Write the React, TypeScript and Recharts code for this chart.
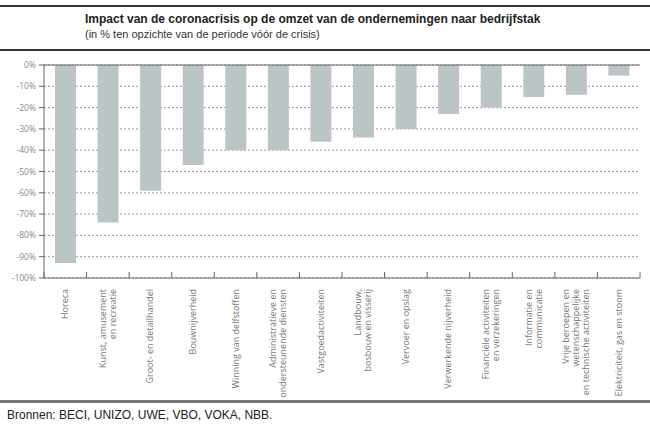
import React from 'react'
import { BarChart, Bar, XAxis, YAxis, CartesianGrid, ReferenceLine } from 'recharts'

const sectors: string[][] = [
  ['Horeca'],
  ['Kunst, amusement', 'en recreatie'],
  ['Groot- en detailhandel'],
  ['Bouwnijverheid'],
  ['Winning van delfstoffen'],
  ['Administratieve en', 'ondersteunende diensten'],
  ['Vastgoedactiviteiten'],
  ['Landbouw,', 'bosbouw en visserij'],
  ['Vervoer en opslag'],
  ['Verwerkende nijverheid'],
  ['Financiële activiteiten', 'en verzekeringen'],
  ['Informatie en', 'communicatie'],
  ['Vrije beroepen en', 'wetenschappelijke', 'en technische activiteiten'],
  ['Elektriciteit, gas en stoom'],
]

const impact = [-93, -74, -59, -47, -40, -40, -36, -34, -30, -23, -20, -15, -14, -5]

const yTicks = [0, -10, -20, -30, -40, -50, -60, -70, -80, -90, -100]

const data = sectors.map((lines, i) => ({ name: lines.join(' '), lines, value: impact[i] }))

const SectorTick = (props: any) => {
  const { x, y, index, width, visibleTicksCount } = props
  const band = width / visibleTicksCount
  const lines = sectors[index] || []
  const lh = 10
  const bx = x + band / 2
  return (
    <g>
      {index === 0 && <line x1={x - band / 2} y1={y} x2={x - band / 2} y2={y - 6} stroke="#666" />}
      <line x1={bx} y1={y} x2={bx} y2={y - 6} stroke="#666" />
      <g transform={`translate(${x}, ${y + 11})`}>
        <text transform="rotate(-90)" textAnchor="end" fontSize={9} fill="#777" fontFamily="'Open Sans', sans-serif">
          {lines.map((l, i) => (
            <tspan key={i} x={0} y={(i - (lines.length - 1) / 2) * lh + 3}>{l}</tspan>
          ))}
        </text>
      </g>
    </g>
  )
}

export default function App() {
  return (
    <div style={{ position: 'absolute', left: 0, top: 0, width: 650, height: 433, background: 'white', fontFamily: "'Liberation Sans', Arial, sans-serif" }}>
      <div style={{ position: 'absolute', left: 0, top: 5, width: 650, height: 2, background: '#333' }} />
      <div style={{ position: 'absolute', left: 85, top: 12, fontSize: 12, fontWeight: 700, color: '#222', whiteSpace: 'nowrap' }}>
        Impact van de coronacrisis op de omzet van de ondernemingen naar bedrijfstak
      </div>
      <div style={{ position: 'absolute', left: 85, top: 28, fontSize: 11, color: '#333', whiteSpace: 'nowrap' }}>
        (in % ten opzichte van de periode vóór de crisis)
      </div>
      <div style={{ position: 'absolute', left: 0, top: 49, width: 650, height: 2, background: '#333' }} />

      <div style={{ position: 'absolute', left: 0, top: 55 }}>
        <BarChart width={650} height={345} data={data} margin={{ top: 10, right: 10, bottom: 2, left: 0 }}>
          <CartesianGrid vertical={false} stroke="#999" strokeDasharray="2 2" />
          <XAxis
            dataKey="name"
            interval={0}
            height={120}
            tickSize={0}
            tickMargin={0}
            tickLine={false}
            axisLine={{ stroke: '#666' }}
            tick={<SectorTick />}
          />
          <YAxis
            domain={[-100, 0]}
            ticks={yTicks}
            width={44}
            interval={0}
            tickSize={5}
            tickMargin={3}
            tickFormatter={(v) => `${v}%`}
            tick={{ fontSize: 8.5, fill: '#888', fontFamily: "'Open Sans', sans-serif" }}
            tickLine={{ stroke: '#666' }}
            axisLine={{ stroke: '#666' }}
          />
          <ReferenceLine y={0} stroke="#666" />
          <Bar dataKey="value" fill="#bbc5c6" barSize={21} isAnimationActive={false} />
        </BarChart>
      </div>

      <div style={{ position: 'absolute', left: 0, top: 400, width: 650, height: 3, background: '#777' }} />
      <div style={{ position: 'absolute', left: 7, top: 408, fontSize: 12, color: '#222', whiteSpace: 'nowrap' }}>
        Bronnen: BECI, UNIZO, UWE, VBO, VOKA, NBB.
      </div>
    </div>
  )
}
